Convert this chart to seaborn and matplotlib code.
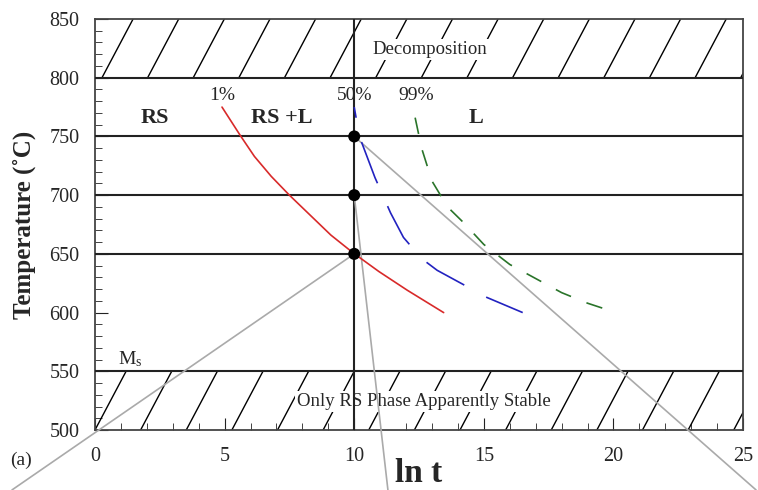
import numpy as np
import pandas as pd
import matplotlib
matplotlib.use('Agg')
import matplotlib.pyplot as plt
from matplotlib.ticker import MultipleLocator
import seaborn as sns

# -- data (x = ln t, y = temperature) --
red_x = [4.9, 5.6, 6.15, 6.8, 7.5, 8.3, 9.1, 9.95, 10.95, 12.05, 13.45]
red_y = [775, 751, 733, 716, 700, 683, 666, 651, 635, 619, 600]

blue_x = [10.0, 10.2, 10.8, 11.4, 11.9, 12.6, 13.2, 14.2, 15.0, 16.5]
blue_y = [775, 750, 715, 685, 664, 646, 636, 624, 614, 600]

green_x = [12.35, 12.6, 13.0, 13.6, 14.2, 15.0, 16.0, 17.0, 18.0, 19.0, 20.1]
green_y = [766, 740, 712, 690, 677, 658, 641, 629, 617, 608, 600]

pct_labels = ['1%', '50%', '99%']
pct_x = [4.9, 10.0, 12.4]
pct_y = [785, 785, 785]

phase_labels = ['RS', 'RS +L', 'L']
phase_x = [2.3, 7.2, 14.7]
phase_y = [766, 766, 766]

h_levels = [800, 750, 700, 650, 550]
v_level = 10

dot_x = [10, 10, 10]
dot_y = [750, 700, 650]

# grey construction lines: start -> end
gray_x0 = [10, 10, 10]
gray_y0 = [750, 700, 650]
gray_x1 = [25.5, 11.3, -3.2]
gray_y1 = [449, 449, 449]

hatch_bands = [(800, 850, 0.27), (500, 550, 0.0)]

sns.set_style('white')
plt.rcParams['font.family'] = ['Liberation Serif', 'DejaVu Serif']
plt.rcParams['mathtext.fontset'] = 'stix'

fig = plt.figure(figsize=(7.58, 4.90), dpi=100)
ax = fig.add_axes([0.1253, 0.1224, 0.855, 0.8388])

# hatched regions
for y0, y1, start in hatch_bands:
    for xs in np.arange(start - 3 * 1.76, 27, 1.76):
        ax.plot([xs, xs + 1.2], [y0, y1], color='black', lw=1.0, zorder=1)

for lv in h_levels:
    ax.axhline(lv, color='#222222', lw=1.5, zorder=3)
ax.axvline(v_level, color='#222222', lw=1.5, zorder=3)

for x0, y0, x1, y1 in zip(gray_x0, gray_y0, gray_x1, gray_y1):
    ax.plot([x0, x1], [y0, y1], color='#aaaaaa', lw=1.2, clip_on=False, zorder=4)

sns.lineplot(x=red_x, y=red_y, color='#d82a2a', lw=1.2, sort=False, ax=ax, zorder=5)
sns.lineplot(x=blue_x, y=blue_y, color='#2222c0', lw=1.2, sort=False, ax=ax, zorder=5,
             linestyle=(20, (26.5, 15)))
sns.lineplot(x=green_x, y=green_y, color='#2a742a', lw=1.2, sort=False, ax=ax, zorder=5,
             linestyle=(0, (10, 10)))

sns.scatterplot(x=dot_x, y=dot_y, color='black', s=75, edgecolor='none', ax=ax, zorder=6)

box = dict(facecolor='white', edgecolor='none', pad=1.5)
ax.text(12.9, 824, 'Decomposition', ha='center', va='center', fontsize=13.5, bbox=box, zorder=2)
ax.text(12.7, 524, 'Only RS Phase Apparently Stable', ha='center', va='center',
        fontsize=13.5, bbox=box, zorder=2)
ax.text(1.35, 560, r'M$_\mathregular{s}$', ha='center', va='center', fontsize=14)

for lab, x, y in zip(pct_labels, pct_x, pct_y):
    ax.text(x, y, lab, ha='center', va='center', fontsize=14)
for lab, x, y in zip(phase_labels, phase_x, phase_y):
    ax.text(x, y, lab, ha='center', va='center', fontsize=16, fontweight='bold')

ax.set_xlim(0, 25)
ax.set_ylim(500, 850)
ax.xaxis.set_major_locator(MultipleLocator(5))
ax.xaxis.set_minor_locator(MultipleLocator(1))
ax.yaxis.set_major_locator(MultipleLocator(50))
ax.yaxis.set_minor_locator(MultipleLocator(10))
ax.tick_params(which='both', direction='in', left=True, bottom=True, top=False, right=False,
               labelsize=14.5, color='#222222')
ax.tick_params(axis='x', which='major', length=9, pad=12)
ax.tick_params(axis='y', which='major', length=9, pad=11)
ax.tick_params(which='minor', length=5)

for sp in ax.spines.values():
    sp.set_color('#444444')
    sp.set_linewidth(1.3)

ax.set_xlabel('ln t', fontsize=24, fontweight='bold')
ax.set_ylabel('Temperature (˚C)', fontsize=18, fontweight='bold', labelpad=10)
ax.xaxis.set_label_coords(0.5, -0.068)

fig.text(0.028, 0.061, '(a)', fontsize=14, ha='center', va='center')

fig.savefig('out.png', dpi=100)
